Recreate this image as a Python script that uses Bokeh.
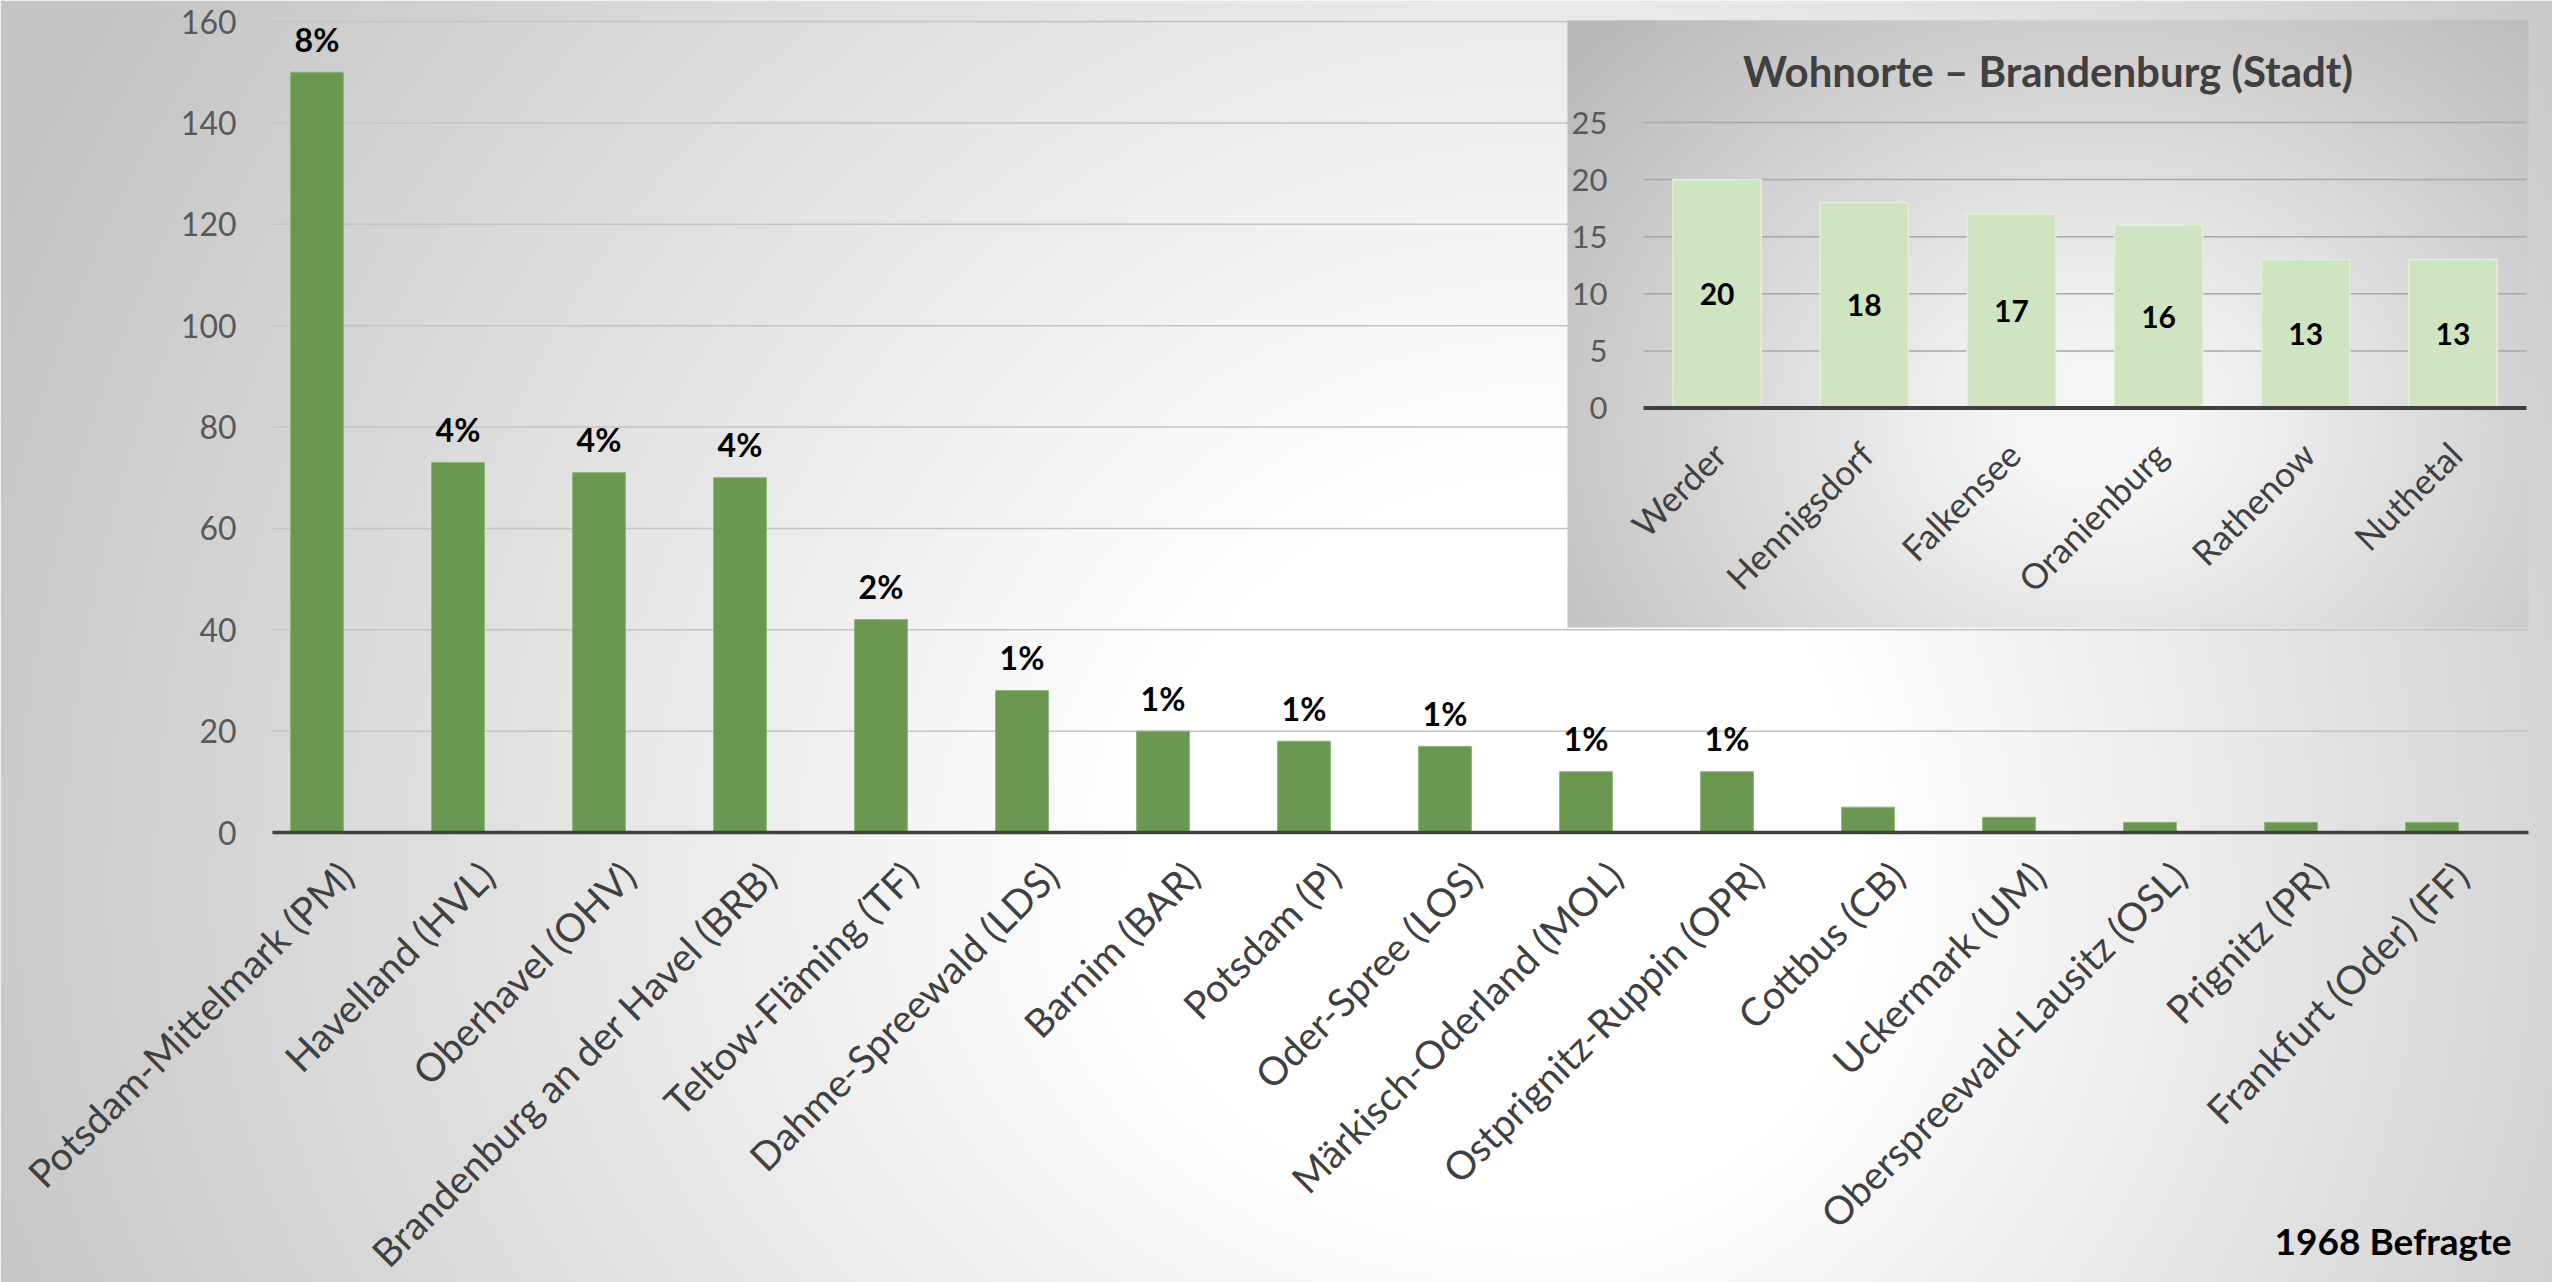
import math
import numpy as np
from bokeh.plotting import figure
from bokeh.models import Range1d
from bokeh.core.properties import value
from bokeh.embed import file_html
from bokeh.resources import INLINE

# ---------------- data ----------------
districts = ["Potsdam-Mittelmark (PM)", "Havelland (HVL)", "Oberhavel (OHV)",
             "Brandenburg an der Havel (BRB)", "Teltow-Fläming (TF)", "Dahme-Spreewald (LDS)",
             "Barnim (BAR)", "Potsdam (P)", "Oder-Spree (LOS)", "Märkisch-Oderland (MOL)",
             "Ostprignitz-Ruppin (OPR)", "Cottbus (CB)", "Uckermark (UM)",
             "Oberspreewald-Lausitz (OSL)", "Prignitz (PR)", "Frankfurt (Oder) (FF)"]
counts = [150, 73, 71, 70, 42, 28, 20, 18, 17, 12, 12, 5, 3, 2, 2, 2]
pct_labels = ["8%", "4%", "4%", "4%", "2%", "1%", "1%", "1%", "1%", "1%", "1%", "", "", "", "", ""]
main_yticks = [0, 20, 40, 60, 80, 100, 120, 140, 160]

towns = ["Werder", "Hennigsdorf", "Falkensee", "Oranienburg", "Rathenow", "Nuthetal"]
town_counts = [20, 18, 17, 16, 13, 13]
inset_yticks = [0, 5, 10, 15, 20, 25]
inset_title = "Wohnorte – Brandenburg (Stadt)"
respondents = "1968 Befragte"

# ---------------- layout (pixel geometry) ----------------
W, H = 2552, 1282
FL, FR, FB = 272, 2528, 832          # main plot area (px)
n = len(districts)
cat_w = (FR - FL) / n
ppu = (FB - 21) / 160.0              # px per unit, main
bar_shift = -26.0 / cat_w

def fx(px):
    return -0.5 + (px - FL) / cat_w

def fy(py):
    return (FB - py) / ppu

IL, IR, IZ = 1643, 2526, 407.5       # inset plot area (px)
m = len(towns)
in_cat = (IR - IL) / m
in_ppu = (IZ - 122) / 25.0

def ix(px):
    return (px - IL) / in_cat

def iy(py):
    return (IZ - py) / in_ppu

FONT = "Lato"
IX = dict(x_range_name="ix", y_range_name="iy")

p = figure(width=W, height=H, output_backend="svg", toolbar_location=None,
           x_range=Range1d(fx(0), fx(W)), y_range=Range1d(fy(H), fy(0)),
           min_border=0, min_border_left=0, min_border_right=0,
           min_border_top=0, min_border_bottom=0)
p.extra_x_ranges = {"ix": Range1d(ix(0), ix(W))}
p.extra_y_ranges = {"iy": Range1d(iy(H), iy(0))}
p.axis.visible = False
p.grid.visible = False
p.outline_line_color = None
p.background_fill_color = "#ffffff"
p.border_fill_color = "#ffffff"


def gradient(w, h, cx, cy, rxl, rxr, ryu, ryd, inner, c0, c1):
    gy, gx = np.mgrid[0:h, 0:w]
    ytop = 1.0 - (gy + 0.5) / h
    xn = (gx + 0.5) / w
    dx = np.where(xn < cx, (xn - cx) / rxl, (xn - cx) / rxr)
    dy = np.where(ytop < cy, (ytop - cy) / ryu, (ytop - cy) / ryd)
    d = np.sqrt(dx ** 2 + dy ** 2)
    t = np.clip((d - inner) / (1 - inner), 0, 1)
    g = (c0 - t * (c0 - c1)).astype(np.uint8)
    img = np.empty((h, w), dtype=np.uint32)
    v = img.view(dtype=np.uint8).reshape((h, w, 4))
    v[..., 0] = g
    v[..., 1] = g
    v[..., 2] = g
    v[..., 3] = 255
    return img


# page background
bg = gradient(638, 320, 1546 / W, 895 / H, 1700 / W, 1300 / W, 1700 / H, 1300 / H, 0.25, 255, 196)
p.image_rgba(image=[bg], x=fx(0), y=fy(H), dw=fx(W) - fx(0), dh=fy(0) - fy(H))

# main gridlines
gt = main_yticks[1:]
p.segment(x0=[-0.5] * len(gt), x1=[n - 0.5] * len(gt), y0=gt, y1=gt,
          line_color="#c4c4c4", line_width=1.5)

# main y tick labels
p.text(x=[fx(236)] * len(main_yticks), y=main_yticks, text=[str(t) for t in main_yticks],
       text_font=value(FONT), text_font_size="32px", text_color="#595959",
       text_align="right", text_baseline="middle")

# main bars
xs = [i + bar_shift for i in range(n)]
p.vbar(x=xs, top=counts, width=0.375, bottom=0,
       fill_color="#6a9850", line_color="#8cb874", line_width=1)
p.segment(x0=[-0.5], x1=[n - 0.5], y0=[0], y1=[0], line_color="#404040", line_width=3.5)
p.text(x=xs, y=[c + 33 / ppu for c in counts], text=pct_labels,
       text_font=value(FONT), text_font_style="bold", text_font_size="32px",
       text_color="#000000", text_align="center", text_baseline="middle")

# category labels
p.text(x=[i + 3 / cat_w for i in range(n)], y=[-36 / ppu] * n, text=districts, angle=math.pi / 4,
       text_font=value(FONT), text_font_size="39px", text_color="#404040",
       text_align="right", text_baseline="middle")

p.text(x=[fx(2511)], y=[fy(1240)], text=[respondents], text_align="right",
       text_baseline="middle", text_font=value(FONT), text_font_style="bold",
       text_font_size="37px", text_color="#000000")

# ---------------- inset ----------------
BX0, BX1, BY0, BY1 = 1567, 2528, 20, 627
ibg = gradient(480, 304, 0.55, 0.67, 0.72, 0.72, 0.95, 0.95, 0.12, 246, 184)
p.image_rgba(image=[ibg], x=ix(BX0), y=iy(BY1), dw=ix(BX1) - ix(BX0), dh=iy(BY0) - iy(BY1), **IX)

grid_ticks = inset_yticks[1:]
p.segment(x0=[0] * len(grid_ticks), x1=[m] * len(grid_ticks), y0=grid_ticks, y1=grid_ticks,
          line_color="#a8a8a8", line_width=1.5, **IX)

txs = [i + 0.5 for i in range(m)]
p.vbar(x=txs, top=town_counts, width=0.6, bottom=0, fill_color="#cfe4c1",
       line_color="#e4efdb", line_width=1.5, **IX)
p.segment(x0=[0], x1=[m], y0=[0], y1=[0], line_color="#404040", line_width=4, **IX)

p.text(x=[ix(1607)] * len(inset_yticks), y=inset_yticks, text=[str(v) for v in inset_yticks],
       text_font=value(FONT), text_font_size="31px", text_color="#595959",
       text_align="right", text_baseline="middle", **IX)

p.text(x=txs, y=[v / 2 for v in town_counts], text=[str(v) for v in town_counts],
       text_font=value(FONT), text_font_style="bold", text_font_size="30px", text_color="#000000",
       text_align="center", text_baseline="middle", **IX)

p.text(x=[x + 2 / in_cat for x in txs], y=[iy(IZ + 40)] * m, text=towns, angle=math.pi / 4,
       text_font=value(FONT), text_font_size="35px", text_color="#404040",
       text_align="right", text_baseline="middle", **IX)

p.text(x=[ix((BX0 + BX1) / 2)], y=[iy(70)], text=[inset_title],
       text_font=value(FONT), text_font_style="bold", text_font_size="42px", text_color="#404040",
       text_align="center", text_baseline="middle", **IX)

with open("out.html", "w", encoding="utf-8") as f:
    f.write(file_html(p, INLINE))
